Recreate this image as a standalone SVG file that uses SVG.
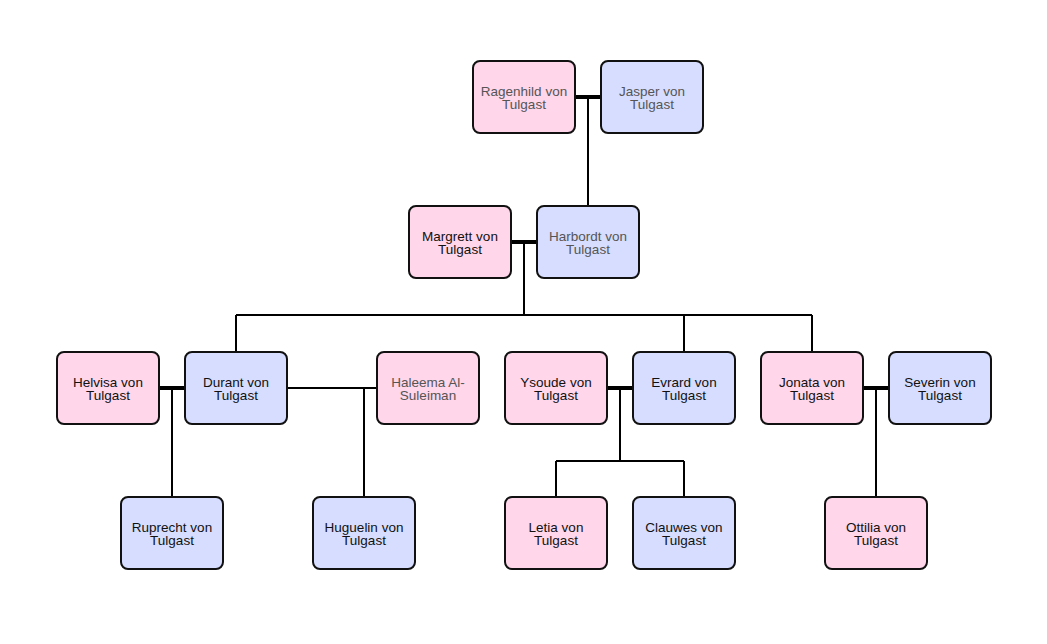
<svg xmlns="http://www.w3.org/2000/svg" width="1047" height="644" viewBox="0 0 1047 644">
<style>
.box{stroke:#111;stroke-width:2;}
.f{fill:#ffd6ea;}
.m{fill:#d6ddff;}
text{font-family:"Liberation Sans",Arial,sans-serif;font-size:13.5px;text-anchor:middle;fill:#111;}
text.g{fill:#555;}
.c{fill:none;stroke:#000;stroke-width:2;}
.cp{fill:none;stroke:#000;stroke-width:4;}
</style>
<rect width="1047" height="644" fill="#fff"/>
<g id="connectors">
<path class="cp" d="M575 97H601"/>
<path class="c" d="M588 97V206"/>
<path class="cp" d="M511 242H537"/>
<path class="c" d="M524 242V315M236 315H812M236 315V352M684 315V352M812 315V352"/>
<path class="cp" d="M159 388H185"/>
<path class="c" d="M172 388V497"/>
<path class="c" d="M287 388H377M364 388V497"/>
<path class="cp" d="M607 388H633"/>
<path class="c" d="M620 388V461M556 461H684M556 461V497M684 461V497"/>
<path class="cp" d="M863 388H889"/>
<path class="c" d="M876 388V497"/>
</g>
<g id="ragenhild"><rect class="box f" x="473" y="61" width="102" height="72" rx="7"/><text class="g" x="524" y="96">Ragenhild von</text><text class="g" x="524" y="109">Tulgast</text></g>
<g id="jasper"><rect class="box m" x="601" y="61" width="102" height="72" rx="7"/><text class="g" x="652" y="96">Jasper von</text><text class="g" x="652" y="109">Tulgast</text></g>
<g id="margrett"><rect class="box f" x="409" y="206" width="102" height="72" rx="7"/><text x="460" y="241">Margrett von</text><text x="460" y="254">Tulgast</text></g>
<g id="harbordt"><rect class="box m" x="537" y="206" width="102" height="72" rx="7"/><text class="g" x="588" y="241">Harbordt von</text><text class="g" x="588" y="254">Tulgast</text></g>
<g id="helvisa"><rect class="box f" x="57" y="352" width="102" height="72" rx="7"/><text x="108" y="387">Helvisa von</text><text x="108" y="400">Tulgast</text></g>
<g id="durant"><rect class="box m" x="185" y="352" width="102" height="72" rx="7"/><text x="236" y="387">Durant von</text><text x="236" y="400">Tulgast</text></g>
<g id="haleema"><rect class="box f" x="377" y="352" width="102" height="72" rx="7"/><text class="g" x="428" y="387">Haleema Al-</text><text class="g" x="428" y="400">Suleiman</text></g>
<g id="ysoude"><rect class="box f" x="505" y="352" width="102" height="72" rx="7"/><text x="556" y="387">Ysoude von</text><text x="556" y="400">Tulgast</text></g>
<g id="evrard"><rect class="box m" x="633" y="352" width="102" height="72" rx="7"/><text x="684" y="387">Evrard von</text><text x="684" y="400">Tulgast</text></g>
<g id="jonata"><rect class="box f" x="761" y="352" width="102" height="72" rx="7"/><text x="812" y="387">Jonata von</text><text x="812" y="400">Tulgast</text></g>
<g id="severin"><rect class="box m" x="889" y="352" width="102" height="72" rx="7"/><text x="940" y="387">Severin von</text><text x="940" y="400">Tulgast</text></g>
<g id="ruprecht"><rect class="box m" x="121" y="497" width="102" height="72" rx="7"/><text x="172" y="532">Ruprecht von</text><text x="172" y="545">Tulgast</text></g>
<g id="huguelin"><rect class="box m" x="313" y="497" width="102" height="72" rx="7"/><text x="364" y="532">Huguelin von</text><text x="364" y="545">Tulgast</text></g>
<g id="letia"><rect class="box f" x="505" y="497" width="102" height="72" rx="7"/><text x="556" y="532">Letia von</text><text x="556" y="545">Tulgast</text></g>
<g id="clauwes"><rect class="box m" x="633" y="497" width="102" height="72" rx="7"/><text x="684" y="532">Clauwes von</text><text x="684" y="545">Tulgast</text></g>
<g id="ottilia"><rect class="box f" x="825" y="497" width="102" height="72" rx="7"/><text x="876" y="532">Ottilia von</text><text x="876" y="545">Tulgast</text></g>
</svg>
